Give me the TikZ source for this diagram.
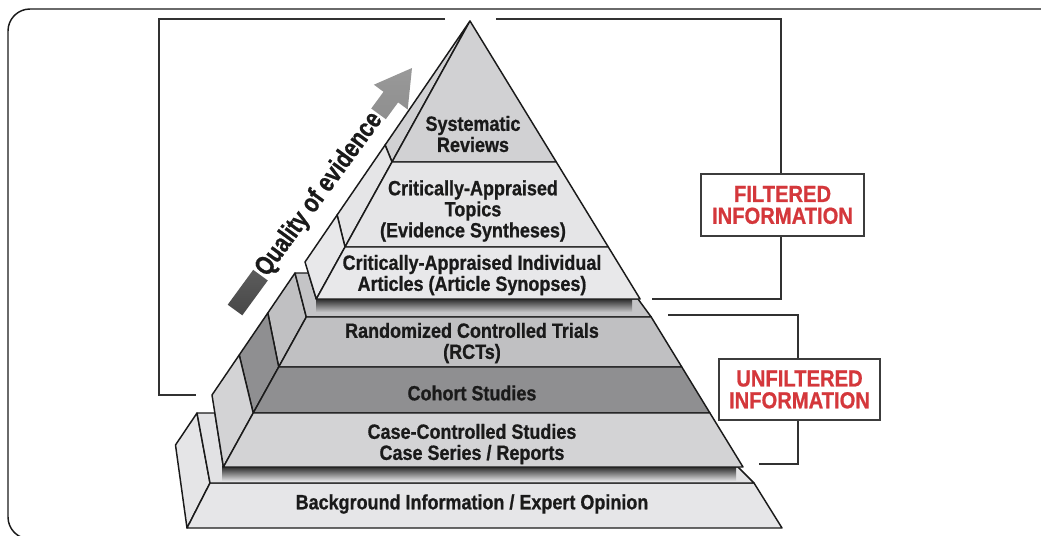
\documentclass[tikz,border=0pt]{standalone}
\usepackage{fontspec}
\newfontfamily\cond{Liberation Sans}[FakeStretch=0.87,FakeBold=0.8]
\newfontfamily\qcond{Liberation Sans}[FakeStretch=0.8,FakeBold=0.8]
\definecolor{sysc}{HTML}{D1D1D3}
\definecolor{topc}{HTML}{E5E5E7}
\definecolor{artc}{HTML}{E8E8EA}
\definecolor{ledgeA}{HTML}{C4C4C6}
\definecolor{rctc}{HTML}{C0C0C2}
\definecolor{cohc}{HTML}{8F8F91}
\definecolor{casec}{HTML}{D3D3D5}
\definecolor{ledgeB}{HTML}{E2E2E4}
\definecolor{bgc}{HTML}{E6E6E8}
\definecolor{redc}{HTML}{D4373B}
\definecolor{ink}{HTML}{1A1A1A}
\tikzset{
  face/.style={draw=ink, line width=1.1pt, line join=round},
  bracket/.style={draw=ink!90, line width=1.5pt},
  frameline/.style={draw=ink, line width=1.1pt, rounded corners=16.5pt},
  lbl/.style={font=\cond\bfseries\fontsize{15.5}{15.8}\selectfont, align=center, text=ink, inner sep=0pt},
  info/.style={draw=ink!85, line width=1.5pt, fill=white, align=center, text=redc,
    font=\cond\bfseries\fontsize{17.4}{16.4}\selectfont, inner sep=0pt},
  qual/.style={font=\qcond\bfseries\fontsize{20}{22}\selectfont, text=ink, fill=white,
    inner xsep=1.5pt, inner ysep=1pt, rotate=53.8},
  shaft/.style={draw=none, shading=axis, shading angle=54, top color=black!40,
    bottom color=black!72, middle color=black!50}
}
\begin{document}
\begin{tikzpicture}[x=0.75pt,y=-0.75pt]
\useasboundingbox (0,0) rectangle (1041,535);
\clip (0,0) rectangle (1041,535);
% outer frame
\draw[frameline] (1070,9) -- (8,9) -- (8,539) -- (1070,539);
% brackets
\coordinate (fa) at (445,19); \coordinate (fb) at (159,19);
\coordinate (fc) at (159,395); \coordinate (fd) at (196,395);
\coordinate (fe) at (496,19); \coordinate (ff) at (781,19);
\coordinate (fg) at (781,299); \coordinate (fh) at (652,299);
\coordinate (ua) at (668,315); \coordinate (ub) at (798,315);
\coordinate (uc) at (798,464); \coordinate (ud) at (759,464);
\draw[bracket] (fa) -- (fb) -- (fc) -- (fd);
\draw[bracket] (fe) -- (ff) -- (fg) -- (fh);
\draw[bracket] (ua) -- (ub) -- (uc) -- (ud);
% ---------- bottom block ----------
\draw[face, fill=topc] (197,413) -- (210,483) -- (187,528) -- (175.5,445) -- cycle;
\draw[face, fill=bgc] (210,483) -- (754,483) -- (782,528) -- (187,528) -- cycle;
\fill[ledgeB] (197,413) -- (214.9,413) -- (223.4,467) -- (738,467) -- (754,483) -- (210,483) -- cycle;
\begin{scope}
  \clip (197,413) -- (214.9,413) -- (223.4,467) -- (738,467) -- (754,483) -- (210,483) -- cycle;
  \shade[top color=black!85, bottom color=ledgeB] (222,466.5) rectangle (736,481);
\end{scope}
\draw[face] (197,413) -- (214.9,413) -- (223.4,467) -- (738,467) -- (754,483) -- (210,483) -- cycle;
% ---------- middle block ----------
\draw[face, fill=rctc] (295,273) -- (306.3,317) -- (278.7,367) -- (267.8,313) -- cycle;
\draw[face, fill=cohc] (267.8,313) -- (278.7,367) -- (253.2,413) -- (239.2,355) -- cycle;
\draw[face, fill=casec] (239.2,355) -- (253.2,413) -- (223.4,467) -- (212,395) -- cycle;
\fill[ledgeA] (295,273) -- (308.4,273) -- (316.3,299) -- (638,299) -- (651.2,317) -- (306.3,317) -- cycle;
\begin{scope}
  \clip (295,273) -- (308.4,273) -- (316.3,299) -- (638,299) -- (651.2,317) -- (306.3,317) -- cycle;
  \shade[top color=black!85, bottom color=ledgeA] (316,298.5) rectangle (632,312);
\end{scope}
\draw[face] (295,273) -- (308.4,273) -- (316.3,299) -- (638,299) -- (651.2,317) -- (306.3,317) -- cycle;
\draw[face, fill=rctc] (306.3,317) -- (651.2,317) -- (681.8,367) -- (278.7,367) -- cycle;
\draw[face, fill=cohc] (278.7,367) -- (681.8,367) -- (709.9,413) -- (253.2,413) -- cycle;
\draw[face, fill=casec] (253.2,413) -- (709.9,413) -- (743,467) -- (223.4,467) -- cycle;
% ---------- top (filtered) pyramid ----------
\draw[face, fill=sysc] (470,21) -- (385.1,145) -- (392,162) -- cycle;
\draw[face, fill=topc] (385.1,145) -- (337.1,215) -- (345,247) -- (392,162) -- cycle;
\draw[face, fill=artc] (337.1,215) -- (305,262) -- (316.3,299) -- (345,247) -- cycle;
\draw[face, fill=sysc] (470,21) -- (556.3,162) -- (392,162) -- cycle;
\draw[face, fill=topc] (392,162) -- (556.3,162) -- (608.3,247) -- (345,247) -- cycle;
\draw[face, fill=artc] (345,247) -- (608.3,247) -- (640.1,299) -- (316.3,299) -- cycle;
% ---------- quality arrow ----------
\shade[shaft] (227.7,304.7) -- (383.5,91.8) -- (373.9,84.7) -- (412,68) -- (407.7,109.5) -- (398.1,102.4) -- (242.3,315.3) -- cycle;
\node[qual] (qe) at (319.5,194.5) {Quality of evidence};
% ---------- labels ----------
\node[lbl] (sr) at (473,134) {Systematic\\Reviews};
\node[lbl] (cat) at (473,211) {Critically-Appraised\\Topics\\(Evidence Syntheses)};
\node[lbl] (cai) at (472,275) {Critically-Appraised Individual\\Articles (Article Synopses)};
\node[lbl] (rct) at (472,343) {Randomized Controlled Trials\\(RCTs)};
\node[lbl] (coh) at (472,393) {Cohort Studies};
\node[lbl] (ccs) at (472,444) {Case-Controlled Studies\\Case Series / Reports};
\node[lbl] (bio) at (472,504) {Background Information / Expert Opinion};
% ---------- info boxes ----------
\node[info, minimum width=122.25pt, minimum height=46.5pt] (filt) at (782.5,205) {FILTERED\\INFORMATION};
\node[info, minimum width=120.75pt, minimum height=45.75pt] (unfilt) at (799.5,389.5) {UNFILTERED\\INFORMATION};
\end{tikzpicture}
\end{document}
